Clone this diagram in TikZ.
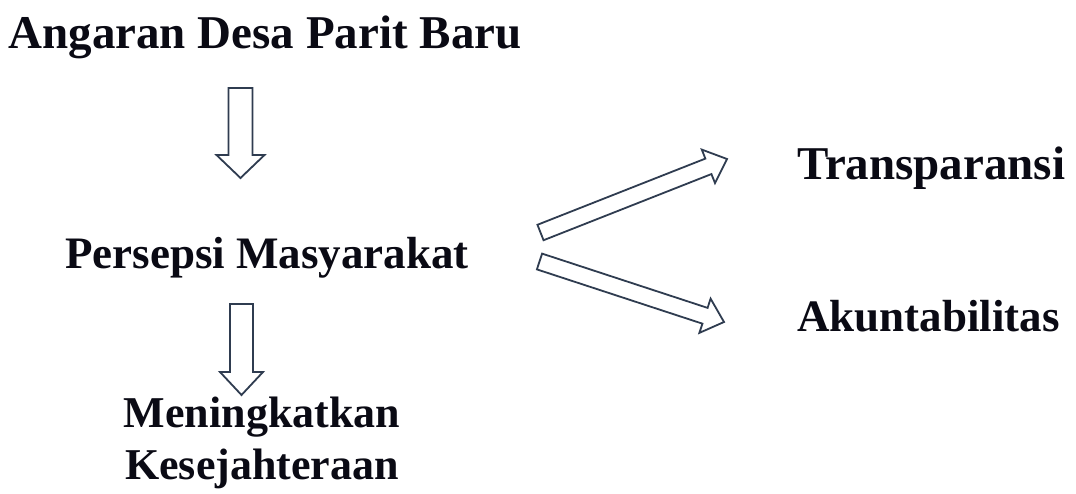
\documentclass[tikz,border=0pt]{standalone}
\usepackage{fontspec}
\setmainfont{Liberation Serif}
\usetikzlibrary{calc}
\definecolor{arrowcol}{HTML}{2F3C50}
\definecolor{txtcol}{HTML}{0A0A14}
\tikzset{
  lbl/.style={font=\bfseries\fontsize{47}{47}\selectfont, text=txtcol, inner sep=0pt},
  lblmid/.style={font=\bfseries\fontsize{45}{45}\selectfont, text=txtcol, inner sep=0pt},
  lblsmall/.style={font=\bfseries\fontsize{44}{44}\selectfont, text=txtcol, inner sep=0pt},
  blockarr/.style={draw=arrowcol, line width=1.8pt, line join=miter, fill=white},
}
\newcommand\hollowarrow[5]{%
  \coordinate (neck) at ($(#2)!#5!(#1)$);
  \draw[blockarr] ($(#1)!#3!90:(#2)$) -- ($(neck)!#3!90:(#2)$) -- ($(neck)!#4!90:(#2)$) -- (#2)
    -- ($(neck)!#4!-90:(#2)$) -- ($(neck)!#3!-90:(#2)$) -- ($(#1)!#3!-90:(#2)$) -- cycle;}
\begin{document}
\begin{tikzpicture}[x=1pt,y=-1pt]
\useasboundingbox (0,0) rectangle (1076,493);
\fill[white] (0,0) rectangle (1076,493);
% texts
\node[lbl, anchor=base] (angaran) at (265,48) {Angaran Desa Parit Baru};
\node[lblmid, anchor=base] (persepsi) at (267,268) {Persepsi Masyarakat};
\node[lbl, anchor=base west] (trans) at (797,179) {Transparansi};
\node[lblmid, anchor=base west] (akun) at (797,331) {Akuntabilitas};
\node[lblsmall, anchor=base] (mening) at (262,427) {Meningkatkan};
\node[lblsmall, anchor=base] (kesej) at (262,479) {Kesejahteraan};
% arrow end points
\coordinate (a1s) at (240.5,88);  \coordinate (a1e) at (240.5,178);
\coordinate (a2s) at (241.5,304); \coordinate (a2e) at (241.5,395);
\coordinate (a3s) at (540.5,232.5); \coordinate (a3e) at (727,159);
\coordinate (a4s) at (539.5,261.5); \coordinate (a4e) at (724,322);
\hollowarrow{a1s}{a1e}{12pt}{24pt}{23pt}
\hollowarrow{a2s}{a2e}{11.5pt}{21.5pt}{23pt}
\hollowarrow{a3s}{a3e}{8.3pt}{18pt}{20pt}
\hollowarrow{a4s}{a4e}{8.3pt}{18pt}{20pt}
\end{tikzpicture}
\end{document}
